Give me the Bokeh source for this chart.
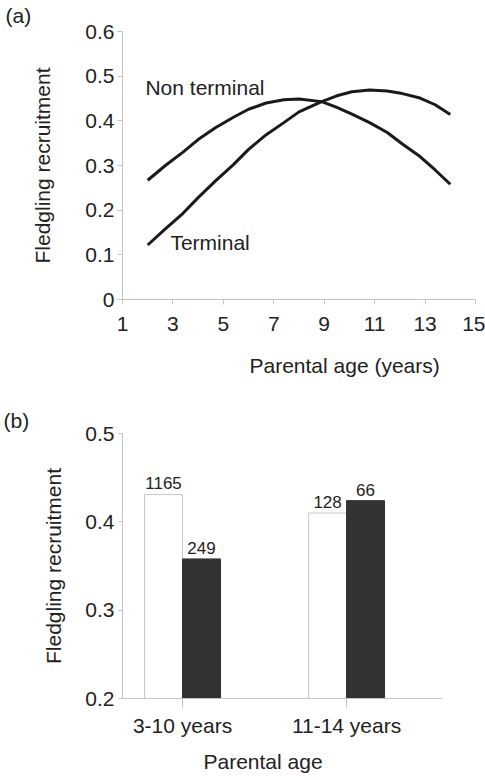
from bokeh.plotting import figure
from bokeh.layouts import column
from bokeh.models import FixedTicker, Range1d, ColumnDataSource, Title
from bokeh.core.properties import value
from bokeh.embed import file_html
from bokeh.resources import INLINE

FONT = "Liberation Sans"
AXIS_COL = "#c4c4c4"
TXT = "#222222"

# ---------- data (a) ----------
ages = [2.0, 2.7, 3.4, 4.0, 4.7, 5.4, 6.0, 6.7, 7.4, 8.0, 8.9, 9.5, 10.1, 10.8, 11.5, 12.1, 12.8, 13.4, 14.0]
non_terminal = [0.267, 0.300, 0.330, 0.358, 0.385, 0.408, 0.426, 0.440, 0.447, 0.449, 0.443,
                0.430, 0.415, 0.396, 0.374, 0.348, 0.320, 0.290, 0.258]
terminal = [0.122, 0.158, 0.193, 0.228, 0.266, 0.302, 0.336, 0.369, 0.396, 0.420, 0.443,
            0.456, 0.465, 0.469, 0.467, 0.461, 0.451, 0.436, 0.414]
a_xticks = [1, 3, 5, 7, 9, 11, 13, 15]
a_yticks = [0, 0.1, 0.2, 0.3, 0.4, 0.5, 0.6]
curve_labels = ["Non terminal", "Terminal"]
curve_label_x = [1.91, 2.9]
curve_label_y = [0.456, 0.110]

# ---------- data (b) ----------
groups = ["3-10 years", "11-14 years"]
group_pos = [1, 3]
nonterm_vals = [0.431, 0.410]
term_vals = [0.358, 0.424]
nonterm_n = ["1165", "128"]
term_n = ["249", "66"]
b_yticks = [0.2, 0.3, 0.4, 0.5]


def style_axes(p, tick_size, label_size):
    for ax in (p.xaxis[0], p.yaxis[0]):
        ax.axis_line_color = AXIS_COL
        ax.axis_line_width = 1
        ax.major_tick_line_color = AXIS_COL
        ax.major_tick_out = 5
        ax.major_tick_in = 0
        ax.minor_tick_line_color = None
        ax.major_label_text_font = FONT
        ax.major_label_text_font_size = tick_size
        ax.major_label_text_color = TXT
        ax.axis_label_text_font = FONT
        ax.axis_label_text_font_size = label_size
        ax.axis_label_text_font_style = "normal"
        ax.axis_label_text_color = TXT
    p.xgrid.grid_line_color = None
    p.ygrid.grid_line_color = None
    p.outline_line_color = None
    p.background_fill_color = "white"
    p.border_fill_color = "white"


def panel_title(p, text, offset, standoff, valign):
    p.title.text = text
    p.title.align = "left"
    p.title.vertical_align = valign
    p.title.offset = offset
    p.title.standoff = standoff
    p.title.text_font = FONT
    p.title.text_font_size = "21px"
    p.title.text_font_style = "normal"
    p.title.text_color = TXT


# ---------- panel (a) ----------
pa = figure(frame_width=353, frame_height=268, output_backend="svg", toolbar_location=None,
            x_range=Range1d(1, 15), y_range=Range1d(0, 0.6),
            min_border_left=120, min_border_right=12, min_border_top=31, min_border_bottom=89)
style_axes(pa, "21px", "21px")
panel_title(pa, "(a)", -117, 6, "top")
pa.xaxis.ticker = FixedTicker(ticks=a_xticks)
pa.yaxis.ticker = FixedTicker(ticks=a_yticks)
pa.yaxis.major_label_overrides = {0: "0"}
pa.xaxis.major_label_standoff = 12
pa.yaxis.major_label_standoff = 3
pa.yaxis.axis_label = "Fledgling recruitment"
pa.yaxis.axis_label_standoff = 28

pa.line(ages, non_terminal, line_color="#1a1a1a", line_width=3, line_join="round")
pa.line(ages, terminal, line_color="#1a1a1a", line_width=3, line_join="round")
pa.text(x=curve_label_x, y=curve_label_y, text=curve_labels, text_font=value(FONT),
        text_font_size="21px", text_color=TXT, text_baseline="alphabetic", text_align="left",
        y_offset=-8)
pa.add_layout(Title(text="Parental age (years)", align="left", offset=127, standoff=37,
                    text_font=FONT, text_font_size="21px", text_font_style="normal",
                    text_color=TXT), "below")

# ---------- panel (b) ----------
pb = figure(width=485, height=385, output_backend="svg", toolbar_location=None,
            x_range=Range1d(0.268, 4.17), y_range=Range1d(0.2, 0.5),
            min_border_left=122, min_border_right=43, min_border_top=38, min_border_bottom=80)
style_axes(pb, "21px", "21px")
panel_title(pb, "(b)", -119, 4, "bottom")
pb.xaxis.ticker = FixedTicker(ticks=group_pos)
pb.xaxis.major_label_overrides = {p: g for p, g in zip(group_pos, groups)}
pb.xaxis.major_tick_out = 9
pb.yaxis.major_tick_out = 4
pb.yaxis.ticker = FixedTicker(ticks=b_yticks)
pb.xaxis.major_label_standoff = 6
pb.yaxis.major_label_standoff = 4
pb.yaxis.axis_label = "Fledgling recruitment"
pb.yaxis.axis_label_standoff = 17

bw = 0.463
left_x = [g - bw / 2 for g in group_pos]
right_x = [g + bw / 2 for g in group_pos]
src_nt = ColumnDataSource(dict(x=left_x, top=nonterm_vals, n=nonterm_n))
src_t = ColumnDataSource(dict(x=right_x, top=term_vals, n=term_n))
pb.vbar(x="x", top="top", bottom=0.2, width=bw, source=src_nt,
        fill_color="white", line_color="#c8c8c8", line_width=1)
pb.vbar(x="x", top="top", bottom=0.2, width=bw, source=src_t,
        fill_color="#333333", line_color="#333333", line_width=1)
for src in (src_nt, src_t):
    pb.text(x="x", y="top", text="n", source=src, text_font=value(FONT), text_font_size="17px",
            text_color=TXT, text_align="center", text_baseline="alphabetic", y_offset=-11)

pb.add_layout(Title(text="Parental age", align="left", offset=81, standoff=16,
                    text_font=FONT, text_font_size="21px", text_font_style="normal",
                    text_color=TXT), "below")

layout = column(pa, pb)
open("out.html", "w").write(file_html(layout, INLINE))
